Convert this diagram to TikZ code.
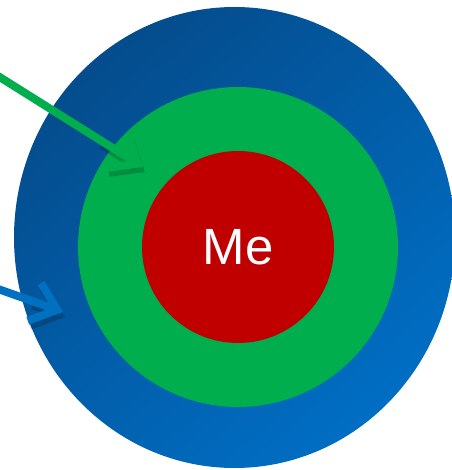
\documentclass[tikz,border=0pt]{standalone}
\usepackage{fontspec}
\setmainfont{Liberation Sans}
\usetikzlibrary{arrows.meta, positioning, calc}
\definecolor{outerdark}{RGB}{4,76,140}
\definecolor{outerlight}{RGB}{0,110,196}
\definecolor{ringgreen}{RGB}{0,174,78}
\definecolor{corered}{RGB}{192,0,0}
\definecolor{arrowblue}{RGB}{0,112,192}

\begin{document}
\begin{tikzpicture}[x=0.02cm, y=0.02cm,
    ring/.style={circle, inner sep=0pt},
    pointer/.style={line width=0.16cm, -{Straight Barb[length=0.48cm, width=0.8cm]}},
    shadowed/.style={pointer, black, opacity=0.18}]
  \useasboundingbox (0,0) rectangle (452,470);
  \clip (0,0) rectangle (452,470);
  % Outer ring with gradient
  \shade[top color=outerdark, bottom color=outerlight, shading angle=40]
    (234.5,232.5) ellipse [x radius=220.5, y radius=230.5];
  % Middle and inner rings
  \node[ring, fill=ringgreen, minimum size=6.4cm] (middle) at (238,223) {};
  \node[ring, fill=corered, minimum size=3.84cm, text=white,
        font=\fontsize{29}{33}\selectfont] (me) at (238,223) {Me};
  % Arrows
  \coordinate (greentail) at (-2,394);
  \coordinate (greentip) at (143,303);
  \coordinate (bluetail) at (-2,181);
  \coordinate (bluetip) at (63,158);
  % shadows under the heads only
  \draw[shadowed] ($(greentail)!0.7!(greentip)+(2,-5)$) -- ($(greentip)+(2,-5)$);
  \draw[shadowed] ($(bluetail)!0.5!(bluetip)+(2,-5)$) -- ($(bluetip)+(2,-5)$);
  \draw[pointer, ringgreen] (greentail) -- (greentip);
  \draw[pointer, arrowblue] (bluetail) -- (bluetip);
\end{tikzpicture}
\end{document}
